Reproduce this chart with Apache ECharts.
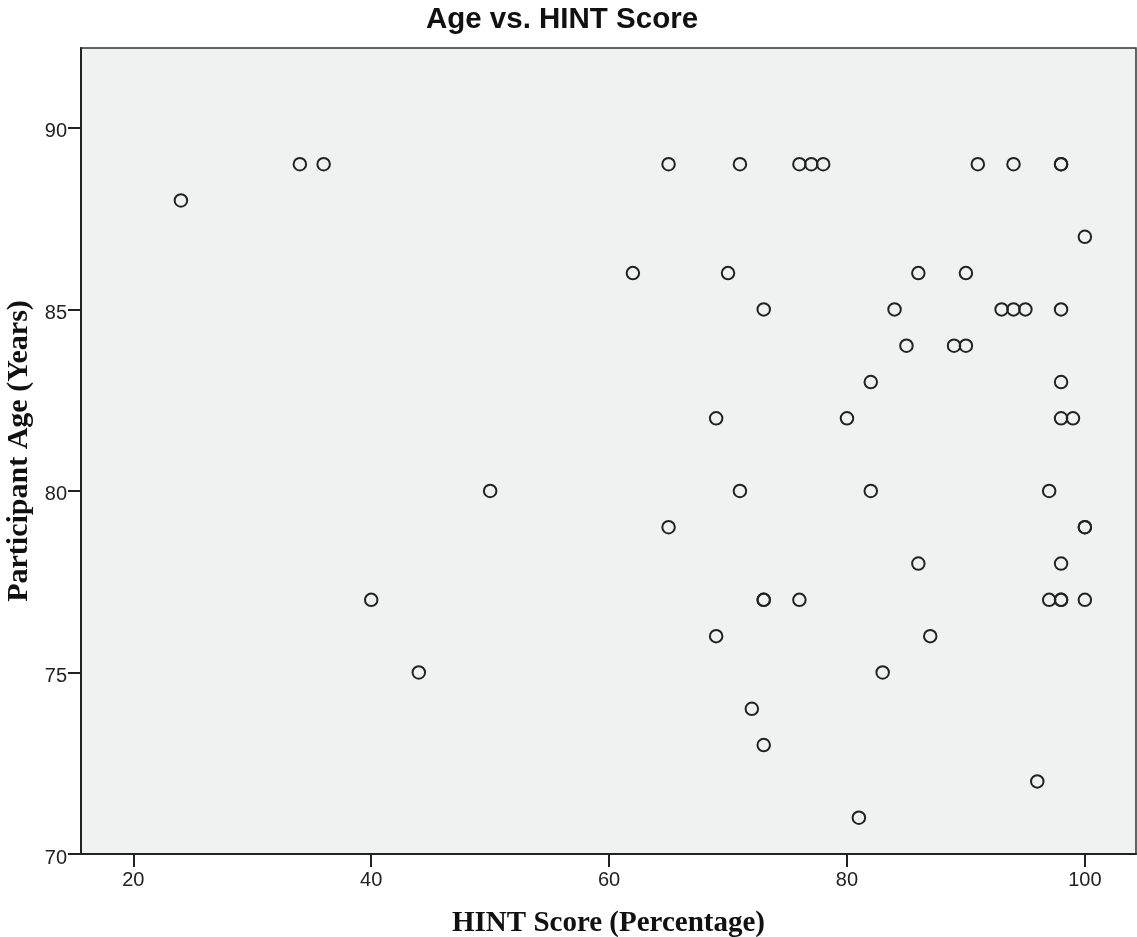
<!DOCTYPE html>
<html>
<head>
<meta charset="utf-8">
<script src="https://cdn.jsdelivr.net/npm/echarts@6/dist/echarts.min.js"></script>
<style>
  html, body { margin: 0; padding: 0; background: #fff; }
  #chart { width: 1137px; height: 937px; }
</style>
</head>
<body>
<div id="chart"></div>
<script>
// HINT score (x) and participant age (y), one entry per participant
var hintScore = [
  34, 36, 65, 71, 76, 77, 78, 91, 94, 98, 98,
  24,
  100,
  62, 70, 86, 90,
  73, 84, 93, 94, 95, 98,
  85, 89, 90,
  82, 98,
  69, 80, 98, 99,
  50, 71, 82, 97,
  65, 100, 100,
  86, 98,
  40, 73, 73, 76, 97, 98, 98, 100,
  69, 87,
  44, 83,
  72,
  73,
  96,
  81
]
var age = [
  89, 89, 89, 89, 89, 89, 89, 89, 89, 89, 89,
  88,
  87,
  86, 86, 86, 86,
  85, 85, 85, 85, 85, 85,
  84, 84, 84,
  83, 83,
  82, 82, 82, 82,
  80, 80, 80, 80,
  79, 79, 79,
  78, 78,
  77, 77, 77, 77, 77, 77, 77, 77,
  76, 76,
  75, 75,
  74,
  73,
  72,
  71
]
var xTicks = [20, 40, 60, 80, 100]
var yTicks = [70, 75, 80, 85, 90]

var points = hintScore.map(function (x, i) { return [x, age[i]] })

var chart = echarts.init(document.getElementById('chart'))

var nameStyle = function (size) {
  return {
    fontFamily: 'Liberation Serif',
    fontWeight: 'bold',
    fontSize: size,
    color: '#111'
  }
}

chart.setOption({
  animation: false,
  title: {
    text: 'Age vs. HINT Score',
    left: 557,
    top: 0,
    textAlign: 'center',
    textStyle: {
      fontFamily: 'Liberation Sans',
      fontWeight: 'bold',
      fontSize: 29.5,
      color: '#111'
    }
  },
  grid: {
    left: 81,
    top: 48,
    right: 1,
    bottom: 83,
    outerBoundsMode: 'none',
    containLabel: false,
    show: true,
    backgroundColor: '#f0f1f1',
    borderColor: '#333',
    borderWidth: 1.5
  },
  xAxis: {
    type: 'value',
    min: 15.6,
    max: 104.3,
    name: 'HINT Score (Percentage)',
    nameLocation: 'middle',
    nameGap: 55,
    nameTextStyle: nameStyle(29),
    splitLine: { show: false },
    axisLine: { show: true, onZero: false, lineStyle: { color: '#222', width: 2 } },
    axisTick: { show: true, length: 13, customValues: xTicks, lineStyle: { color: '#222', width: 2 } },
    axisLabel: {
      customValues: xTicks,
      margin: 16,
      fontFamily: 'Liberation Sans',
      fontSize: 20,
      color: '#222'
    }
  },
  yAxis: {
    type: 'value',
    min: 70,
    max: 92.2,
    name: 'Participant Age (Years)',
    nameLocation: 'middle',
    nameGap: 46,
    nameTextStyle: nameStyle(30),
    splitLine: { show: false },
    axisLine: { show: true, onZero: false, lineStyle: { color: '#222', width: 2 } },
    axisTick: { show: true, length: 13, customValues: yTicks, lineStyle: { color: '#222', width: 2 } },
    axisLabel: {
      customValues: yTicks,
      margin: 14,
      verticalAlign: 'top',
      lineHeight: 8,
      fontFamily: 'Liberation Sans',
      fontSize: 20,
      color: '#222'
    }
  },
  series: [{
    type: 'scatter',
    data: points,
    symbol: 'circle',
    symbolSize: 12.5,
    itemStyle: {
      color: 'rgba(0,0,0,0)',
      borderColor: '#222',
      borderWidth: 2,
      opacity: 1
    }
  }]
})
</script>
</body>
</html>
